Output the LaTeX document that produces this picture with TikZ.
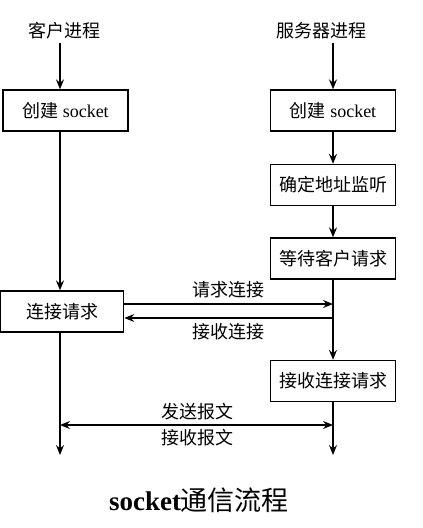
\documentclass[tikz,border=0pt]{standalone}
\usepackage{fontspec}
\setmainfont{Liberation Serif}
\newfontfamily\cjk{Noto Sans CJK SC}
\usetikzlibrary{arrows.meta}
\tikzset{
  box/.style={draw, line width=1.3pt, minimum width=125pt, minimum height=41pt, inner sep=0pt, font=\fontsize{18}{21}\selectfont},
  lbl/.style={inner sep=0pt, font=\fontsize{18}{21}\selectfont\cjk},
  tip/.tip={Stealth[length=10pt,width=8pt,inset=3.5pt]},
  flow/.style={line width=1.4pt, -tip},
  twoway/.style={line width=1.4pt, tip-tip}
}
\begin{document}
\begin{tikzpicture}[x=1pt,y=-1pt]
\useasboundingbox (0,0) rectangle (423,528);
\coordinate (cl) at (60,0);
\coordinate (sl) at (333,0);
\node[lbl] (cproc) at (64,31) {客户进程};
\node[lbl] (sproc) at (321,31) {服务器进程};
\node[box] (c1) at (65.5,110.5) {{\cjk 创建} socket};
\node[box] (s1) at (333,110.5) {{\cjk 创建} socket};
\node[box, font=\fontsize{18}{21}\selectfont\cjk] (s2) at (333,185) {确定地址监听};
\node[box, font=\fontsize{18}{21}\selectfont\cjk] (s3) at (333,258.5) {等待客户请求};
\node[box, minimum width=123pt, font=\fontsize{18}{21}\selectfont\cjk] (c2) at (62.2,311.5) {连接请求};
\node[box, font=\fontsize{18}{21}\selectfont\cjk] (s4) at (333,381) {接收连接请求};
\coordinate (cb) at (60,455);
\coordinate (sb) at (333,455);
\coordinate (req) at (333,304);
\coordinate (acc) at (333,318);
\coordinate (msg) at (60,425);
\coordinate (msgr) at (333,425);

\draw[flow] (cproc.south -| cl) ++(0,3) -- (c1.north -| cl);
\draw[flow] (sproc.south -| sl) ++(0,3) -- (s1.north -| sl);
\draw[flow] (c1.south -| cl) -- (c2.north -| cl);
\draw[flow] (s1) -- (s2);
\draw[flow] (s2) -- (s3);
\draw[flow] (s3) -- (s4);
\draw[flow] (c2.east |- req) -- (req) node[lbl, midway, above=5pt] {请求连接};
\draw[flow] (acc) -- (c2.east |- acc) node[lbl, midway, below=5pt] {接收连接};
\draw[flow] (c2.south -| cl) -- (cb);
\draw[flow] (s4) -- (sb);
\draw[twoway] (msg) -- (msgr);
\node[lbl] (send) at (197,412) {发送报文};
\node[lbl] (recv) at (197,438) {接收报文};
\node[inner sep=0pt, font=\fontsize{27}{30}\selectfont] (title) at (199,500) {\textbf{socket}{\cjk 通信流程}};
\end{tikzpicture}
\end{document}
